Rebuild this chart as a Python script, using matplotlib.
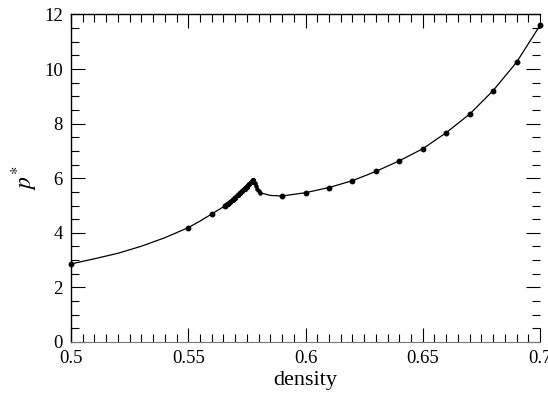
import numpy as np
import matplotlib
matplotlib.use("Agg")
import matplotlib.pyplot as plt
from matplotlib.ticker import MultipleLocator

plt.rcParams['font.family'] = ['Liberation Serif', 'DejaVu Serif']
plt.rcParams['mathtext.fontset'] = 'stix'

# low density branch (sparse points)
dens_low = [0.50, 0.51, 0.52, 0.53, 0.54, 0.55, 0.555, 0.56, 0.5657]
p_low = [2.86, 3.05, 3.25, 3.51, 3.82, 4.19, 4.43, 4.69, 4.99]
dens_low_mk = [0.50, 0.55, 0.56, 0.5657]
p_low_mk = [2.86, 4.19, 4.69, 4.99]

# dense run of points up to the peak
dens_rise = [0.5657, 0.567, 0.568, 0.569, 0.570, 0.571, 0.572, 0.573, 0.574,
             0.575, 0.576, 0.577, 0.5777]
p_rise = [4.99, 5.07, 5.13, 5.21, 5.29, 5.37, 5.45, 5.53, 5.61,
          5.69, 5.78, 5.86, 5.93]

# and back down after it
dens_drop = [0.5777, 0.5783, 0.5789, 0.5795, 0.5801, 0.5806]
p_drop = [5.93, 5.82, 5.71, 5.61, 5.52, 5.47]

# high density branch
dens_high = [0.5806, 0.585, 0.59, 0.60, 0.61, 0.62, 0.63, 0.64, 0.65,
             0.66, 0.67, 0.68, 0.69, 0.70]
p_high = [5.47, 5.37, 5.35, 5.47, 5.66, 5.91, 6.25, 6.64, 7.08,
          7.67, 8.35, 9.21, 10.25, 11.6]
dens_high_mk = [0.59, 0.60, 0.61, 0.62, 0.63, 0.64, 0.65,
                0.66, 0.67, 0.68, 0.69, 0.70]
p_high_mk = [5.35, 5.47, 5.66, 5.91, 6.25, 6.64, 7.08,
             7.67, 8.35, 9.21, 10.25, 11.6]

fig = plt.figure(figsize=(5.48, 3.94), dpi=100)
ax = fig.add_axes([0.1296, 0.132, 0.8558, 0.8312])

ax.plot(dens_low, p_low, color='black', lw=0.9)
ax.plot(dens_low_mk, p_low_mk, 'o', color='black', ms=3.2, clip_on=False)
ax.plot(dens_rise, p_rise, '-o', color='black', lw=3.0, ms=2.8,
        solid_capstyle='round')
ax.plot(dens_drop, p_drop, '-o', color='black', lw=1.6, ms=2.2)
ax.plot(dens_high, p_high, color='black', lw=0.9)
ax.plot(dens_high_mk, p_high_mk, 'o', color='black', ms=3.2, clip_on=False)

ax.set_xlim(0.5, 0.7)
ax.set_ylim(0, 12)
ax.xaxis.set_major_locator(MultipleLocator(0.05))
ax.xaxis.set_minor_locator(MultipleLocator(0.005))
ax.yaxis.set_major_locator(MultipleLocator(2))
ax.yaxis.set_minor_locator(MultipleLocator(0.5))
ax.set_xticks([0.5, 0.55, 0.6, 0.65, 0.7])
ax.set_xticklabels(['0.5', '0.55', '0.6', '0.65', '0.7'])

ax.tick_params(which='both', direction='in', top=True, right=True,
               labelsize=13.5, width=0.8, color='black')
ax.tick_params(which='major', length=10, pad=6)
ax.tick_params(which='minor', length=6)

ax.spines['right'].set_visible(False)
ax.spines['bottom'].set_color('#777777')
ax.spines['left'].set_linewidth(1.0)
ax.spines['top'].set_linewidth(1.0)

ax.set_xlabel('density', fontsize=16, labelpad=3)
ax.set_ylabel(r'$p^{*}$', fontsize=17, labelpad=3)

fig.savefig('out.png', dpi=100)
